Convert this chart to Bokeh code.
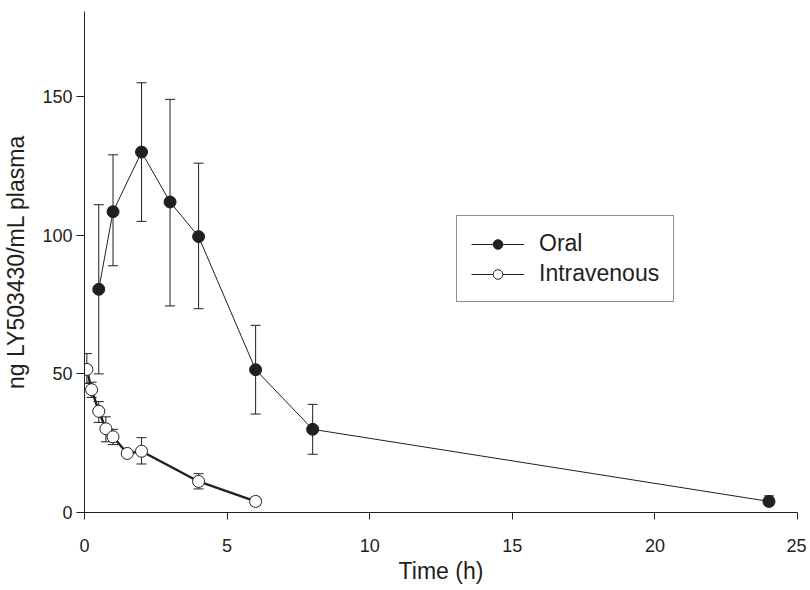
from bokeh.plotting import figure
from bokeh.models import ColumnDataSource, Whisker, TeeHead, Legend, LegendItem, Range1d, FixedTicker
from bokeh.embed import file_html
from bokeh.resources import INLINE

oral_t = [0.5, 1, 2, 3, 4, 6, 8, 24]
oral_mean = [80.5, 108.5, 130, 112, 99.5, 51.5, 30, 4]
oral_lo = [50, 89, 105, 74.5, 73.5, 35.5, 21, 2.5]
oral_hi = [111, 129, 155, 149, 126, 67.5, 39, 6]

iv_t = [0.083, 0.25, 0.5, 0.75, 1, 1.5, 2, 4, 6]
iv_mean = [51.6, 44.3, 36.5, 30.2, 27.3, 21.3, 22.1, 11.2, 4]
iv_lo = [46.5, 41.5, 32.5, 25.5, 24.5, 20.5, 17.5, 8.5, 2.5]
iv_hi = [57.3, 47, 40, 34.5, 30, 22, 27, 14, 5.5]

x_ticks = [0, 5, 10, 15, 20, 25]
y_ticks = [0, 50, 100, 150]

FONT = "Liberation Sans"
INK = "#231f20"

p = figure(width=806, height=589, output_backend="svg", toolbar_location=None,
           x_range=Range1d(0, 25), y_range=Range1d(0, 180.7),
           min_border_left=83, min_border_right=9, min_border_top=11, min_border_bottom=77)
p.outline_line_color = None
p.xgrid.grid_line_color = None
p.ygrid.grid_line_color = None
p.background_fill_color = "white"

for ax in (p.xaxis[0], p.yaxis[0]):
    ax.axis_line_color = INK
    ax.major_tick_line_color = INK
    ax.minor_tick_line_color = None
    ax.major_tick_in = 0
    ax.major_tick_out = 8
    ax.major_label_text_font = FONT
    ax.major_label_text_font_size = "18px"
    ax.major_label_text_color = INK
    ax.axis_label_text_font = FONT
    ax.axis_label_text_font_size = "23px"
    ax.axis_label_text_font_style = "normal"
    ax.axis_label_text_color = INK

p.xaxis.ticker = FixedTicker(ticks=x_ticks)
p.yaxis.ticker = FixedTicker(ticks=y_ticks)
p.xaxis.axis_label = "Time (h)"
p.yaxis.axis_label = "ng LY503430/mL plasma"
p.xaxis.major_tick_out = 7
p.xaxis.major_label_standoff = 19
p.yaxis.major_label_standoff = 4
p.xaxis.axis_label_standoff = 3
p.yaxis.axis_label_standoff = 10

oral_src = ColumnDataSource(dict(t=oral_t, m=oral_mean, lo=oral_lo, hi=oral_hi))
iv_src = ColumnDataSource(dict(t=iv_t, m=iv_mean, lo=iv_lo, hi=iv_hi))

for src in (oral_src, iv_src):
    w = Whisker(source=src, base="t", upper="hi", lower="lo", level="underlay",
                line_color=INK, line_width=1,
                upper_head=TeeHead(size=10, line_color=INK, line_width=1),
                lower_head=TeeHead(size=10, line_color=INK, line_width=1))
    p.add_layout(w)

p.line("t", "m", source=oral_src, line_color=INK, line_width=1)
p.scatter("t", "m", source=oral_src, size=12, marker="circle",
          fill_color=INK, line_color=INK)
p.line("t", "m", source=iv_src, line_color=INK, line_width=2.4)
p.scatter("t", "m", source=iv_src, size=12, marker="circle",
          fill_color="white", line_color=INK, line_width=1)

# legend-only renderers (thin lines, small markers as in the key); no visible data
nan = float("nan")
key_src = ColumnDataSource(dict(t=[nan], m=[nan]))
lg_oral_l = p.line("t", "m", source=key_src, line_color=INK, line_width=1)
lg_oral_m = p.scatter("t", "m", source=key_src, size=10, marker="circle",
                      fill_color=INK, line_color=INK)
lg_iv_l = p.line("t", "m", source=key_src, line_color=INK, line_width=1)
lg_iv_m = p.scatter("t", "m", source=key_src, size=10, marker="circle",
                    fill_color="white", line_color=INK)

legend = Legend(items=[LegendItem(label="Oral", renderers=[lg_oral_l, lg_oral_m]),
                       LegendItem(label="Intravenous", renderers=[lg_iv_l, lg_iv_m])],
                location=(372, 210))
legend.border_line_color = INK
legend.border_line_width = 1
legend.background_fill_alpha = 1
legend.label_text_font = FONT
legend.label_text_font_size = "23px"
legend.label_text_color = INK
legend.glyph_width = 53
legend.glyph_height = 24
legend.label_height = 24
legend.spacing = 3
legend.padding = 14
legend.margin = 0
legend.label_standoff = 15
p.add_layout(legend, "center")

open("out.html", "w").write(file_html(p, INLINE))
